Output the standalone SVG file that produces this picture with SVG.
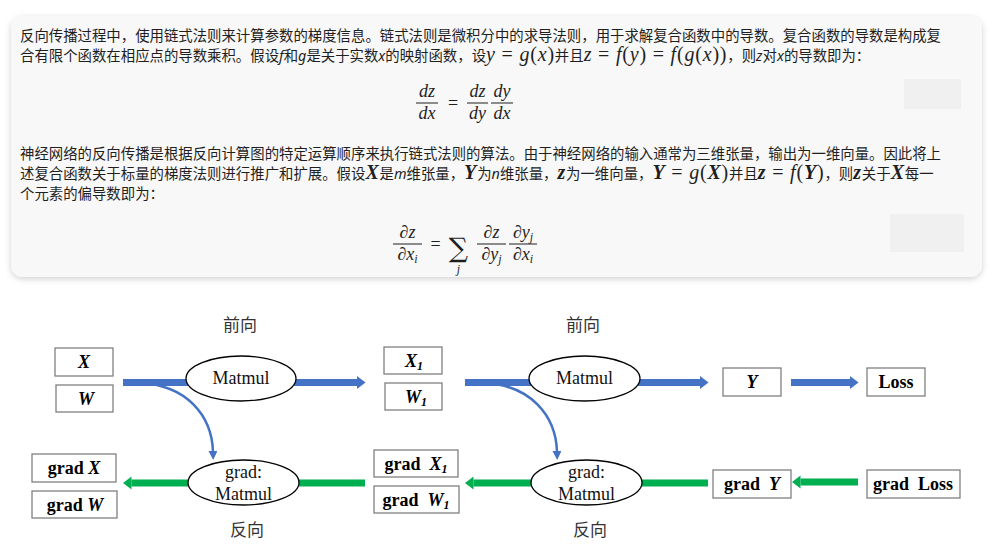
<svg xmlns="http://www.w3.org/2000/svg" width="999" height="553" viewBox="0 0 999 553">
<style>
.p{font-family:"Noto Sans CJK SC","Noto Sans",sans-serif;font-size:14.4px;fill:#1f1f1f}
.i{font-style:italic;font-family:"Noto Sans","Noto Sans CJK SC",sans-serif}
.m{font-family:"Liberation Serif",serif;font-style:italic;font-size:20px;letter-spacing:0.8px}
.mr{font-family:"Liberation Serif",serif;font-style:normal;font-size:20px;letter-spacing:0.8px}
.mb{font-family:"Liberation Serif",serif;font-style:italic;font-weight:bold;font-size:20px;letter-spacing:0.8px}
.f{font-family:"Liberation Serif","DejaVu Serif",serif;font-style:italic;font-size:18px;fill:#1f1f1f;text-anchor:middle}
.fr{font-family:"Liberation Serif","DejaVu Serif",serif;font-size:18px;fill:#1f1f1f;text-anchor:middle}
.sig{font-family:"DejaVu Serif","Liberation Serif",serif;font-size:27px;fill:#1f1f1f;text-anchor:middle}
.fj{font-family:"Liberation Serif",serif;font-style:italic;font-size:12px;fill:#1f1f1f;text-anchor:middle}
.bar{stroke:#1f1f1f;stroke-width:1}
.box{fill:#fff;stroke:#808080;stroke-width:1.3}
.ell{fill:#fff;stroke:#000;stroke-width:1.3}
.lbl{font-family:"Liberation Serif",serif;font-size:18px;font-weight:bold;fill:#000;text-anchor:middle}
.it{font-style:italic}
.sub{font-size:12px;font-style:italic}
.et{font-family:"Liberation Serif",serif;font-size:18px;fill:#111;text-anchor:middle}
.cn{font-family:"Noto Sans CJK SC",sans-serif;font-size:17px;fill:#333;text-anchor:middle}
.blue{stroke:#4472c4;stroke-width:7;fill:none}
.green{stroke:#00b050;stroke-width:7;fill:none}
.thin{stroke:#4472c4;stroke-width:2.5;fill:none}
</style>
<defs>
<filter id="sh" x="-5%" y="-10%" width="110%" height="125%">
<feDropShadow dx="0" dy="2" stdDeviation="3" flood-color="#000" flood-opacity="0.18"/>
</filter>
<marker id="hb" markerUnits="userSpaceOnUse" markerWidth="9" markerHeight="14" refX="0" refY="7" orient="auto">
<path d="M0,0.5 L8.5,7 L0,13.5 z" fill="#4472c4"/>
</marker>
<marker id="hg" markerUnits="userSpaceOnUse" markerWidth="9" markerHeight="14" refX="0" refY="7" orient="auto">
<path d="M0,0.5 L8.5,7 L0,13.5 z" fill="#00b050"/>
</marker>
<marker id="ht" markerUnits="userSpaceOnUse" markerWidth="10" markerHeight="10" refX="1" refY="4.5" orient="auto">
<path d="M0,0 L9,4.5 L0,9 z" fill="#4472c4"/>
</marker>
</defs>
<rect width="999" height="553" fill="#fff"/>

<g id="panel">
<rect x="11" y="16" width="971" height="261" rx="12" fill="#f8f8f8" filter="url(#sh)"/>
<rect x="904" y="79" width="57" height="30" fill="#f0f0f0"/>
<rect x="890" y="214" width="74" height="38" fill="#f0f0f0"/>
<text class="p" x="20" y="41">反向传播过程中，使用链式法则来计算参数的梯度信息。链式法则是微积分中的求导法则，用于求解复合函数中的导数。复合函数的导数是构成复</text>
<text class="p" x="20" y="61">合有限个函数在相应点的导数乘积。假设<tspan class="i">f</tspan>和<tspan class="i">g</tspan>是关于实数<tspan class="i">x</tspan>的映射函数，设<tspan class="m">y</tspan><tspan class="mr"> = </tspan><tspan class="m">g</tspan><tspan class="mr">(</tspan><tspan class="m">x</tspan><tspan class="mr">)</tspan>并且<tspan class="m">z</tspan><tspan class="mr"> = </tspan><tspan class="m">f</tspan><tspan class="mr">(</tspan><tspan class="m">y</tspan><tspan class="mr">) = </tspan><tspan class="m">f</tspan><tspan class="mr">(</tspan><tspan class="m">g</tspan><tspan class="mr">(</tspan><tspan class="m">x</tspan><tspan class="mr">))</tspan>，则<tspan class="i">z</tspan>对<tspan class="i">x</tspan>的导数即为：</text>

<text class="f" x="427" y="97">dz</text>
<line class="bar" x1="416" y1="103" x2="438" y2="103"/>
<text class="f" x="427" y="119">dx</text>
<text class="fr" x="453" y="109">=</text>
<text class="f" x="477.5" y="97">dz</text>
<line class="bar" x1="467" y1="103" x2="488" y2="103"/>
<text class="f" x="477.5" y="119">dy</text>
<text class="f" x="502" y="97">dy</text>
<line class="bar" x1="491" y1="103" x2="513" y2="103"/>
<text class="f" x="502" y="119">dx</text>

<text class="p" x="20" y="159">神经网络的反向传播是根据反向计算图的特定运算顺序来执行链式法则的算法。由于神经网络的输入通常为三维张量，输出为一维向量。因此将上</text>
<text class="p" x="20" y="179">述复合函数关于标量的梯度法则进行推广和扩展。假设<tspan class="mb">X</tspan>是<tspan class="i">m</tspan>维张量，<tspan class="mb">Y</tspan>为<tspan class="i">n</tspan>维张量，<tspan class="mb">z</tspan>为一维向量，<tspan class="mb">Y</tspan><tspan class="mr"> = </tspan><tspan class="m">g</tspan><tspan class="mr">(</tspan><tspan class="mb">X</tspan><tspan class="mr">)</tspan>并且<tspan class="mb">z</tspan><tspan class="mr"> = </tspan><tspan class="m">f</tspan><tspan class="mr">(</tspan><tspan class="mb">Y</tspan><tspan class="mr">)</tspan>，则<tspan class="mb">z</tspan>关于<tspan class="mb">X</tspan>每一</text>
<text class="p" x="20" y="199">个元素的偏导数即为：</text>

<text class="f" x="407.5" y="238">∂z</text>
<line class="bar" x1="393" y1="244" x2="422" y2="244"/>
<text class="f" x="407.5" y="260">∂x<tspan font-size="12" dy="3">i</tspan></text>
<text class="fr" x="435.5" y="250">=</text>
<text class="sig" x="458.5" y="257">∑</text>
<text class="fj" x="458.5" y="273">j</text>
<text class="f" x="491.5" y="238">∂z</text>
<line class="bar" x1="477" y1="244" x2="506" y2="244"/>
<text class="f" x="491.5" y="260">∂y<tspan font-size="12" dy="3">j</tspan></text>
<text class="f" x="523" y="238">∂y<tspan font-size="12" dy="3">j</tspan></text>
<line class="bar" x1="509" y1="244" x2="537" y2="244"/>
<text class="f" x="523" y="260">∂x<tspan font-size="12" dy="3">i</tspan></text>
</g>

<g id="connectors">
<line class="blue" x1="123" y1="382.5" x2="357" y2="382.5" marker-end="url(#hb)"/>
<line class="blue" x1="465" y1="382.5" x2="700" y2="382.5" marker-end="url(#hb)"/>
<line class="blue" x1="791" y1="382.5" x2="850" y2="382.5" marker-end="url(#hb)"/>
<line class="green" x1="365" y1="483" x2="131.5" y2="483" marker-end="url(#hg)"/>
<line class="green" x1="708" y1="483" x2="473.5" y2="483" marker-end="url(#hg)"/>
<line class="green" x1="858" y1="482" x2="800.5" y2="482" marker-end="url(#hg)"/>
<path class="thin" d="M140,383 C186,385 212,415 213,452" marker-end="url(#ht)"/>
<path class="thin" d="M484,383 C530,385 556,415 557,452" marker-end="url(#ht)"/>
</g>

<g id="labels">
<text class="cn" x="240" y="331">前向</text>
<text class="cn" x="583" y="331">前向</text>
<text class="cn" x="247" y="536">反向</text>
<text class="cn" x="590" y="536">反向</text>
</g>

<g id="node-X"><rect class="box" x="55" y="348" width="58" height="28"/><text class="lbl it" x="84" y="368">X</text></g>
<g id="node-W"><rect class="box" x="56" y="385" width="57" height="27"/><text class="lbl it" x="86" y="405">W</text></g>
<g id="node-matmul1"><ellipse class="ell" cx="241" cy="378.5" rx="55" ry="22.5"/><text class="et" x="241" y="384">Matmul</text></g>
<g id="node-X1"><rect class="box" x="384" y="347" width="58" height="27"/><text class="lbl it" x="414" y="367">X<tspan class="sub" dy="3">1</tspan></text></g>
<g id="node-W1"><rect class="box" x="385" y="383" width="57" height="27"/><text class="lbl it" x="416" y="403">W<tspan class="sub" dy="3">1</tspan></text></g>
<g id="node-matmul2"><ellipse class="ell" cx="584.5" cy="378.5" rx="55.5" ry="22.5"/><text class="et" x="584.5" y="384">Matmul</text></g>
<g id="node-Y"><rect class="box" x="723" y="368" width="58" height="28"/><text class="lbl it" x="752" y="388">Y</text></g>
<g id="node-Loss"><rect class="box" x="867" y="368" width="58" height="28"/><text class="lbl" x="896" y="388">Loss</text></g>

<g id="node-gradX"><rect class="box" x="32" y="454" width="84" height="28"/><text class="lbl" x="74" y="474">grad <tspan class="it">X</tspan></text></g>
<g id="node-gradW"><rect class="box" x="32" y="491" width="85" height="27"/><text class="lbl" x="75" y="511">grad <tspan class="it">W</tspan></text></g>
<g id="node-gradmatmul1"><ellipse class="ell" cx="243.5" cy="482.5" rx="55.5" ry="22.5"/><text class="et" x="243.5" y="478">grad:</text><text class="et" x="243.5" y="500">Matmul</text></g>
<g id="node-gradX1"><rect class="box" x="374" y="450" width="84" height="27"/><text class="lbl" x="416" y="470" xml:space="preserve">grad  <tspan class="it">X</tspan><tspan class="sub" dy="3">1</tspan></text></g>
<g id="node-gradW1"><rect class="box" x="374" y="486" width="85" height="27"/><text class="lbl" x="416" y="506" xml:space="preserve">grad  <tspan class="it">W</tspan><tspan class="sub" dy="3">1</tspan></text></g>
<g id="node-gradmatmul2"><ellipse class="ell" cx="586.5" cy="482.5" rx="55.5" ry="22.5"/><text class="et" x="586.5" y="478">grad:</text><text class="et" x="586.5" y="500">Matmul</text></g>
<g id="node-gradY"><rect class="box" x="713" y="470" width="78" height="28"/><text class="lbl" x="752" y="490" xml:space="preserve">grad  <tspan class="it">Y</tspan></text></g>
<g id="node-gradLoss"><rect class="box" x="867" y="470" width="93" height="28"/><text class="lbl" x="913" y="490" xml:space="preserve">grad  Loss</text></g>
</svg>
